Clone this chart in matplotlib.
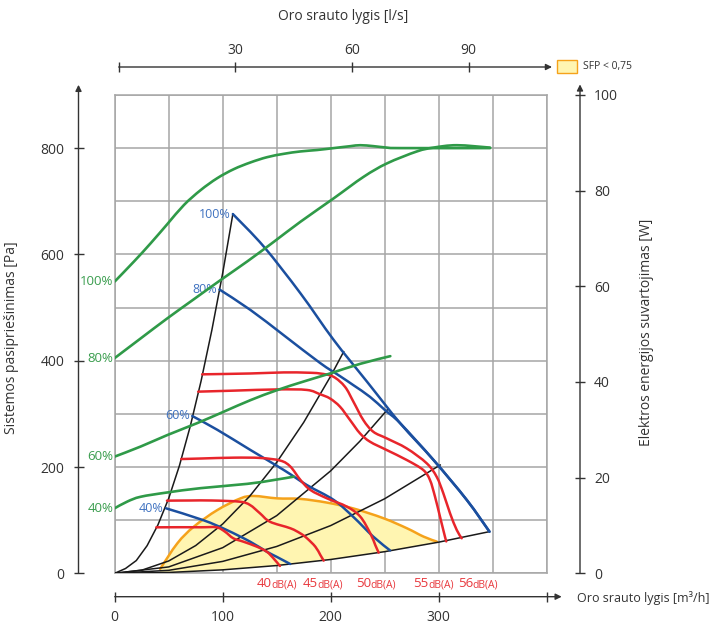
import matplotlib
matplotlib.use("Agg")
import matplotlib.pyplot as plt
from matplotlib.patches import Rectangle, PathPatch
from matplotlib.path import Path

plt.rcParams['font.family'] = ['Open Sans', 'DejaVu Sans']

# ---------------- data ----------------
x_ticks_m3h = [0, 100, 200, 300, 400]
x_tick_labels_m3h = ['0', '100', '200', '300', '']
y_ticks_pa = [0, 200, 400, 600, 800]
y_ticks_w = [0, 20, 40, 60, 80, 100]
top_ticks_ls = [0, 30, 60, 90]
top_tick_labels_ls = ['', '30', '60', '90']

# electric power curves (W) per fan speed
power_labels = ['100%', '80%', '60%', '40%']
power_x = [
    [0, 17.9, 33.3, 48.7, 64.1, 79.5, 94.9, 110.3, 125.7, 141.1, 156.5, 172.0, 187.4, 202.8, 218.2, 227.4, 239.8, 252.1, 264.4, 347.6],
    [0, 24.0, 48.7, 73.3, 98.0, 122.7, 147.3, 172.0, 202.8, 230.5, 252.1, 279.8, 295.2, 316.8, 347.6],
    [0, 24.0, 48.7, 76.4, 101.1, 125.7, 150.4, 175.0, 199.7, 227.4, 255.2],
    [0, 11.7, 24.0, 48.7, 79.5, 122.7, 147.3, 165.8],
]
power_w = [
    [61.0, 65.2, 69.0, 73.0, 77.0, 80.1, 82.6, 84.5, 85.9, 87.0, 87.7, 88.2, 88.5, 88.9, 89.3, 89.5, 89.3, 89.0, 88.9, 88.9],
    [45.0, 49.1, 53.3, 57.3, 61.3, 65.2, 69.3, 73.5, 78.4, 82.9, 85.7, 88.2, 89.0, 89.5, 89.0],
    [24.4, 26.5, 28.9, 31.4, 33.8, 36.2, 38.3, 40.1, 41.8, 43.8, 45.4],
    [13.6, 15.0, 16.0, 16.9, 17.8, 18.7, 19.5, 20.2],
]

# fan pressure curves (Pa) per fan speed
fan_labels = ['100%', '80%', '60%', '40%']
fan_x = [
    [109.4, 138.1, 172.0, 202.8, 233.6, 264.4, 295.2, 326.0, 347.0],
    [97.0, 125.7, 156.5, 190.0, 208.6, 221.0, 236.4, 250.3, 264.4, 295.2, 326.0, 347.0],
    [71.8, 95.0, 125.7, 156.5, 178.0, 202.8, 221.0, 239.4, 255.0],
    [47.5, 82.0, 103.7, 125.3, 140.7, 150.0, 162.5],
]
fan_pa = [
    [676, 614.6, 526.8, 439.0, 360.6, 282.2, 213.2, 138.0, 78.4],
    [534, 495.5, 448, 396, 371, 354, 332, 307, 282.2, 213.2, 138.0, 78.4],
    [296, 270, 232, 194.4, 166, 138, 106, 69, 43],
    [122.3, 100, 81.5, 59.6, 40.8, 31, 17.5],
]

# system curves (Pa)
sys_x = [
    [0, 10, 20, 30, 40, 50, 60, 70, 80, 90, 100, 109.4],
    [0, 25, 50, 75, 100, 125, 150, 175, 200, 212],
    [0, 50, 100, 150, 200, 227, 253],
    [0, 50, 100, 150, 200, 250, 301.4],
    [0, 50, 100, 150, 200, 250, 300, 347],
]
sys_pa = [
    [0, 9, 24, 52, 91, 141, 203, 277, 362, 458, 565, 676],
    [0, 5.8, 23.2, 52.2, 92.8, 145, 208.8, 284, 371, 417],
    [0, 12, 48.2, 108.5, 192.8, 248.5, 309],
    [0, 5.6, 22.4, 50.5, 89.8, 140.3, 203.8],
    [0, 1.6, 6.5, 14.6, 26, 40.7, 58.6, 78.4],
]

# sound level curves (Pa)
noise_labels = ['40', '45', '50', '55', '56']
noise_x = [
    [38.5, 60, 80, 94.4, 102.1, 109.8, 119, 131.5, 140.7, 146.9, 153],
    [48.4, 70, 90, 116, 125.3, 134.5, 143.8, 162.7, 172, 178, 185.8, 190.4, 193.5],
    [61.6, 80, 110.3, 135, 153.5, 162.7, 172, 181.2, 196.6, 215, 227.4, 236.7, 241.3, 244.4],
    [77.3, 110.3, 150.4, 178, 190, 199.3, 208.6, 217.9, 227.1, 236.4, 251.8, 270.4, 285.7, 291.9, 296.6, 301.2, 305.8, 307],
    [81, 125.7, 156.5, 178, 190, 202.4, 213.2, 221, 230.2, 239.4, 251.8, 270.4, 288.9, 298.1, 304.3, 310.5, 316.7, 321.3],
]
noise_pa = [
    [86.5, 86.7, 86.6, 86.5, 78.3, 65.9, 59.6, 50.2, 40.8, 28.4, 13.8],
    [136.7, 137, 137, 134.7, 128.5, 112.9, 97, 84.7, 75, 66, 50, 34.5, 23.8],
    [215, 216, 217.6, 217, 212, 200.7, 175.6, 156.8, 141, 125.4, 106.6, 75, 53, 38.9],
    [341.8, 343.7, 346, 345, 337, 329, 313.5, 288.4, 263.4, 247.6, 232, 213.2, 194.4, 175.6, 144.1, 106.5, 68.9, 60],
    [374.4, 376, 378, 377.5, 376, 370, 351, 323, 288.4, 266.4, 254, 235, 207, 181.7, 150.5, 112.9, 81.5, 65.9],
]
noise_label_x = [131.5, 173.7, 223.4, 276.5, 317.6]

# SFP < 0,75 region
sfp_top_x = [42, 58, 73.3, 95, 116.5, 128.8, 150.4, 172, 196.6, 221, 249, 270.6, 286, 298.3]
sfp_top_pa = [8, 56.4, 87.8, 119, 141, 145.5, 141, 140, 133, 122, 103.5, 84.7, 69, 59.6]
sfp_bot_x = [298.3, 250, 200, 150, 100, 42]
sfp_bot_pa = [58, 40.7, 26, 14.6, 6.5, 1.2]

# ---------------- styling ----------------
GREEN = '#2f9a48'
GREEN_T = '#3a9d4e'
BLUE = '#1b4f9f'
BLUE_T = '#3f72c0'
RED = '#e8252b'
RED_T = '#e8383d'
BLACK = '#1a1a1a'
GRID = '#a6a6a6'
AXC = '#333333'

W, H = 712, 628
def fx(px):
    return px / W
def fy(py):
    return 1 - py / H


def smooth(xs, ys):
    """Catmull-Rom curve through the given points, as a Bezier path."""
    pts = list(zip(xs, ys))
    verts = [pts[0]]
    codes = [Path.MOVETO]
    n = len(pts)
    for i in range(n - 1):
        p0 = pts[i - 1] if i > 0 else pts[i]
        p1 = pts[i]
        p2 = pts[i + 1]
        p3 = pts[i + 2] if i + 2 < n else pts[i + 1]
        c1 = (p1[0] + (p2[0] - p0[0]) / 6.0, p1[1] + (p2[1] - p0[1]) / 6.0)
        c2 = (p2[0] - (p3[0] - p1[0]) / 6.0, p2[1] - (p3[1] - p1[1]) / 6.0)
        verts += [c1, c2, p2]
        codes += [Path.CURVE4] * 3
    return Path(verts, codes)


def draw(a, xs, ys, color, lw, z):
    a.add_patch(PathPatch(smooth(xs, ys), fill=False, edgecolor=color, lw=lw, zorder=z,
                          capstyle='round', joinstyle='round'))


fig = plt.figure(figsize=(W / 100, H / 100), dpi=100)

x0, x1, y0, y1 = 114.7, 546.7, 573.3, 95.0
ax = fig.add_axes([fx(x0), fy(y0), (x1 - x0) / W, (y0 - y1) / H])
ax.set_xlim(0, 400)
ax.set_ylim(0, 900)
ax.set_xticks(range(0, 401, 50))
ax.set_yticks(range(0, 901, 100))
ax.tick_params(length=0, labelbottom=False, labelleft=False)
ax.grid(True, color=GRID, lw=1.1)
ax.set_axisbelow(True)
for s in ax.spines.values():
    s.set_color(GRID)
    s.set_linewidth(1.1)

# SFP region
ax.fill(sfp_top_x + sfp_bot_x, sfp_top_pa + sfp_bot_pa, color='#fff5b1', lw=0, zorder=1)
draw(ax, sfp_top_x, sfp_top_pa, '#f5a21b', 1.8, 2)

for xs, ys in zip(sys_x, sys_pa):
    ax.plot(xs, ys, color=BLACK, lw=1.1, zorder=3)

for xs, ys, lab in zip(fan_x, fan_pa, fan_labels):
    draw(ax, xs, ys, BLUE, 1.8, 4)
    ax.text(xs[0] - 2, ys[0], lab, color=BLUE_T, fontsize=9, ha='right', va='center')

for xs, ys in zip(noise_x, noise_pa):
    draw(ax, xs, ys, RED, 1.8, 5)

for lx, lab in zip(noise_label_x, noise_labels):
    ax.text(lx, -20, lab, color=RED_T, fontsize=9.5, ha='left', va='center', clip_on=False)
    ax.annotate('dB(A)', xy=(lx, -20), xytext=(10.6, -0.5), textcoords='offset points',
                color=RED_T, fontsize=7.5, ha='left', va='center', annotation_clip=False)

axW = ax.twinx()
axW.set_ylim(0, 100)
axW.axis('off')
for xs, ws, lab in zip(power_x, power_w, power_labels):
    draw(axW, xs, ws, GREEN, 1.9, 6)
    axW.text(-1.5, ws[0], lab, color=GREEN_T, fontsize=9.5, ha='right', va='center')

# ---------------- outer axes ----------------
def clean(a):
    a.patch.set_visible(False)
    for s in a.spines.values():
        s.set_visible(False)

arrow = dict(arrowstyle='-|>', color=AXC, lw=1.0, mutation_scale=9, shrinkA=0, shrinkB=0)

# left pressure axis
axL = fig.add_axes([fx(78.5), fy(y0), 0.0001, (y0 - y1) / H])
clean(axL)
axL.set_ylim(0, 900)
axL.set_yticks(y_ticks_pa)
axL.set_xticks([])
axL.tick_params(axis='y', direction='inout', length=6.5, width=1, colors=AXC, labelsize=10, pad=7.0)
axL.annotate('', xy=(0, (y0 - 84.8) / (y0 - y1)), xytext=(0, 0), xycoords='axes fraction', arrowprops=arrow)

# right power axis
axR = fig.add_axes([fx(580), fy(y0), 0.0001, (y0 - y1) / H])
clean(axR)
axR.set_ylim(0, 100)
axR.set_yticks(y_ticks_w)
axR.set_xticks([])
axR.yaxis.tick_right()
axR.tick_params(axis='y', direction='inout', length=6.5, width=1, colors=AXC, labelsize=10, pad=6.8)
axR.annotate('', xy=(0, (y0 - 84.4) / (y0 - y1)), xytext=(0, 0), xycoords='axes fraction', arrowprops=arrow)

# bottom m3/h axis
axB = fig.add_axes([fx(x0), fy(596.7), (x1 - x0) / W, 0.0001])
clean(axB)
axB.set_xlim(0, 400)
axB.set_xticks(x_ticks_m3h)
axB.set_xticklabels(x_tick_labels_m3h)
axB.set_yticks([])
axB.tick_params(axis='x', direction='inout', length=6.5, width=1, colors=AXC, labelsize=10, pad=6.5)
axB.annotate('', xy=((561.7 - x0) / (x1 - x0), 0), xytext=(0, 0), xycoords='axes fraction', arrowprops=arrow)

# top l/s axis
ls_px = 3.888
t0 = 118.7
axT = fig.add_axes([fx(t0), fy(67), (x1 - x0) / W, 0.0001])
clean(axT)
axT.set_xlim(0, (x1 - x0) / ls_px)
axT.set_xticks(top_ticks_ls)
axT.set_xticklabels(top_tick_labels_ls)
axT.set_yticks([])
axT.xaxis.tick_top()
axT.tick_params(axis='x', direction='inout', length=6.5, width=1, colors=AXC, labelsize=10, pad=3.5)
axT.annotate('', xy=((552 - t0) / (x1 - x0), 0), xytext=(0, 0), xycoords='axes fraction', arrowprops=arrow)

# titles / labels
fig.text(fx(343), fy(16), 'Oro srauto lygis [l/s]', ha='center', va='center', fontsize=10, color=AXC)
fig.text(fx(12), fy(338), 'Sistemos pasipriešinimas [Pa]', rotation=90, ha='center', va='center', fontsize=10, color=AXC)
fig.text(fx(647), fy(332), 'Elektros energijos suvartojimas [W]', rotation=90, ha='center', va='center', fontsize=10, color=AXC)
fig.text(fx(577), fy(598), 'Oro srauto lygis [m³/h]', ha='left', va='center', fontsize=9, color=AXC)

# legend
fig.patches.append(Rectangle((fx(557), fy(73)), 20 / W, 13 / H, transform=fig.transFigure,
                             facecolor='#fff5b1', edgecolor='#f5a21b', lw=1.0))
fig.text(fx(583), fy(67), 'SFP < 0,75', ha='left', va='center', fontsize=7.5, color=AXC)

fig.savefig('out.png', dpi=100)
